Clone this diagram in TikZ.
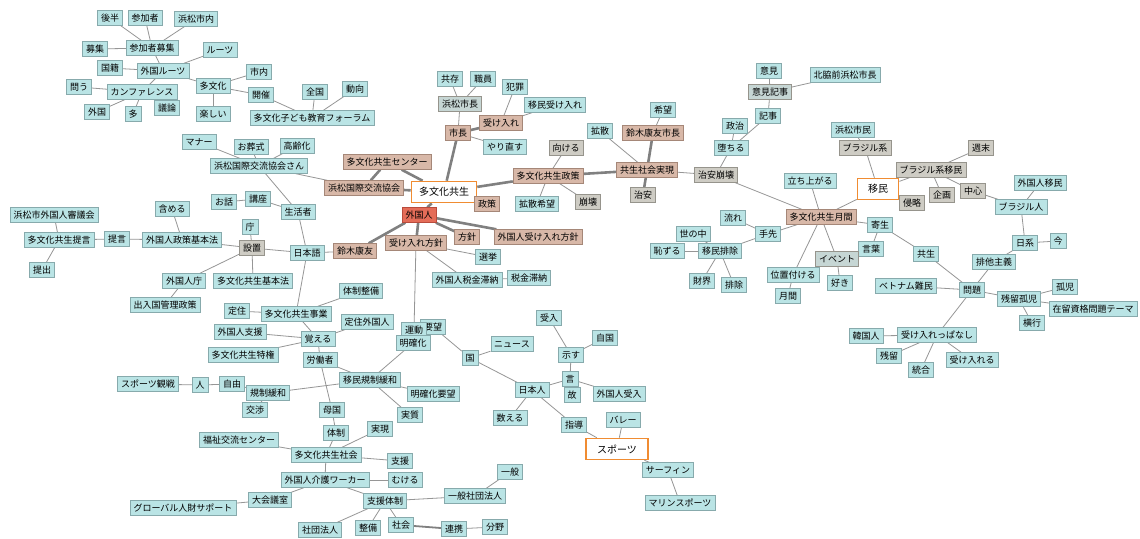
\documentclass[tikz,border=0pt]{standalone}
\usepackage{fontspec}
\newfontfamily\jp{Noto Sans CJK JP}
\usetikzlibrary{backgrounds,shadows}
\definecolor{cy}{RGB}{186,228,229}
\definecolor{cyd}{RGB}{135,170,172}
\definecolor{br}{RGB}{216,184,168}
\definecolor{brd}{RGB}{165,135,120}
\definecolor{gr}{RGB}{206,204,196}
\definecolor{grd}{RGB}{150,148,140}
\definecolor{cg}{RGB}{198,214,212}
\definecolor{rd}{RGB}{228,108,88}
\definecolor{rdd}{RGB}{185,75,60}
\definecolor{org}{RGB}{240,140,50}
\definecolor{ln}{RGB}{150,150,150}
\definecolor{lt}{RGB}{128,128,128}
\begin{document}
\begin{tikzpicture}[x=1pt,y=-1pt,
  nb/.style={font=\jp\fontsize{9}{10}\selectfont, inner xsep=3.5pt, inner ysep=0pt, minimum height=15pt, line width=0.4pt,
    drop shadow={shadow xshift=0.8pt,shadow yshift=-0.8pt,fill=black!40,opacity=0.6}},
  c/.style={nb, fill=cy, draw=cyd},
  b/.style={nb, fill=br, draw=brd},
  g/.style={nb, fill=gr, draw=grd},
  q/.style={nb, fill=cg, draw=grd},
  r/.style={nb, fill=rd, draw=rdd},
  o/.style={font=\jp\fontsize{10}{12}\selectfont, draw=org, line width=1.6pt, fill=white, minimum height=21pt, inner xsep=2pt},
  e/.style={draw=ln, line width=0.8pt},
  t/.style={draw=lt, line width=2.6pt},
  m/.style={draw=lt, line width=1.8pt}]
\useasboundingbox (0,0) rectangle (1140,538);
% nodes
\node[c] (n01) at (110,18) {後半};
\node[c] (n02) at (145,18) {参加者};
\node[c] (n03) at (196,19) {浜松市内};
\node[c] (n04) at (95,49) {募集};
\node[c] (n05) at (152,48) {参加者募集};
\node[c] (n06) at (220,50) {ルーツ};
\node[c] (n07) at (110,68) {国籍};
\node[c] (n08) at (163,71) {外国ルーツ};
\node[c] (n09) at (259,72) {市内};
\node[c] (n10) at (213,86) {多文化};
\node[c] (n11) at (79,87) {問う};
\node[c] (n12) at (142,92) {カンファレンス};
\node[c] (n13) at (261,95) {開催};
\node[c] (n14) at (97,112) {外国};
\node[c] (n15) at (133,114) {多};
\node[c] (n16) at (167,108) {議論};
\node[c] (n17) at (213,114) {楽しい};
\node[c] (n18) at (312,118) {多文化子ども教育フォーラム};
\node[c] (n19) at (315,92) {全国};
\node[c] (n20) at (355,89) {動向};
\node[c] (n21) at (199,142) {マナー};
\node[c] (n22) at (251,147) {お葬式};
\node[c] (n23) at (297,146) {高齢化};
\node[c] (n24) at (259,166) {浜松国際交流協会さん};
\node[c] (n25) at (450,79) {共存};
\node[c] (n26) at (483,79) {職員};
\node[q] (n27) at (460,104) {浜松市長};
\node[c] (n28) at (515,87) {犯罪};
\node[c] (n29) at (555,105) {移民受け入れ};
\node[b] (n30) at (501,123) {受け入れ};
\node[b] (n31) at (458,133) {市長};
\node[c] (n32) at (505,147) {やり直す};
\node[b] (n33) at (387,162) {多文化共生センター};
\node[g] (n34) at (566,148) {向ける};
\node[b] (n35) at (548,176) {多文化共生政策};
\node[c] (n36) at (663,110) {希望};
\node[c] (n37) at (600,131) {拡散};
\node[b] (n38) at (653,133) {鈴木康友市長};
\node[b] (n39) at (647,170) {共生社会実現};
\node[c] (n40) at (769,71) {意見};
\node[q] (n41) at (770,92) {意見記事};
\node[c] (n42) at (845,75) {北脇前浜松市長};
\node[c] (n43) at (768,116) {記事};
\node[c] (n44) at (735,126) {政治};
\node[c] (n45) at (731,148) {堕ちる};
\node[g] (n46) at (716,175) {治安崩壊};
\node[c] (n47) at (853,130) {浜松市民};
\node[g] (n48) at (865,148) {ブラジル系};
\node[c] (n49) at (810,181) {立ち上がる};
\node[g] (n50) at (981,148) {週末};
\node[g] (n51) at (931,170) {ブラジル系移民};
\node[c] (n52) at (1040,183) {外国人移民};
\node[o, minimum width=41pt] (n53) at (878,189) {移民};
\node[g] (n54) at (912,203) {侵略};
\node[g] (n55) at (942,195) {企画};
\node[g] (n56) at (973,191) {中心};
\node[c] (n57) at (1021,207) {ブラジル人};
\node[c] (n58) at (880,225) {寄生};
\node[c] (n59) at (871,249) {言葉};
\node[c] (n60) at (1025,243) {日系};
\node[c] (n61) at (1058,241) {今};
\node[c] (n62) at (926,254) {共生};
\node[c] (n63) at (994,262) {排他主義};
\node[c] (n64) at (906,286) {ベトナム難民};
\node[c] (n65) at (972,290) {問題};
\node[c] (n66) at (1065,287) {孤児};
\node[c] (n67) at (1019,299) {残留孤児};
\node[c] (n68) at (1093,309) {在留資格問題テーマ};
\node[c] (n69) at (1032,323) {横行};
\node[c] (n70) at (866,336) {韓国人};
\node[c] (n71) at (937,335) {受け入れっぱなし};
\node[c] (n72) at (889,356) {残留};
\node[c] (n73) at (972,360) {受け入れる};
\node[c] (n74) at (921,370) {統合};
\node[g] (n75) at (643,195) {治安};
\node[g] (n76) at (588,202) {崩壊};
\node[b] (n77) at (821,217) {多文化共生月間};
\node[c] (n78) at (733,218) {流れ};
\node[c] (n79) at (768,234) {手先};
\node[c] (n80) at (693,234) {世の中};
\node[c] (n81) at (667,251) {恥ずる};
\node[c] (n82) at (720,251) {移民排除};
\node[c] (n83) at (702,281) {財界};
\node[c] (n84) at (734,285) {排除};
\node[c] (n85) at (793,275) {位置付ける};
\node[c] (n86) at (788,296) {月間};
\node[q] (n87) at (837,259) {イベント};
\node[c] (n88) at (840,283) {好き};
\node[c] (n89) at (605,338) {自国};
\node[c] (n90) at (571,355) {示す};
\node[c] (n91) at (54,215) {浜松市外国人審議会};
\node[c] (n92) at (59,240) {多文化共生提言};
\node[c] (n93) at (117,239) {提言};
\node[c] (n94) at (172,209) {含める};
\node[c] (n95) at (182,240) {外国人政策基本法};
\node[c] (n96) at (42,270) {提出};
\node[c] (n97) at (224,202) {お話};
\node[c] (n98) at (258,199) {講座};
\node[c] (n99) at (298,212) {生活者};
\node[c] (n100) at (250,227) {庁};
\node[g] (n101) at (252,248) {設置};
\node[c] (n102) at (307,253) {日本語};
\node[b] (n103) at (355,251) {鈴木康友};
\node[c] (n104) at (184,281) {外国人庁};
\node[c] (n105) at (253,281) {多文化共生基本法};
\node[c] (n106) at (165,305) {出入国管理政策};
\node[c] (n107) at (237,311) {定住};
\node[c] (n108) at (296,314) {多文化共生事業};
\node[c] (n109) at (240,332) {外国人支援};
\node[c] (n110) at (243,355) {多文化共生特権};
\node[c] (n111) at (361,291) {体制整備};
\node[c] (n112) at (367,322) {定住外国人};
\node[c] (n113) at (318,339) {覚える};
\node[c] (n114) at (320,360) {労働者};
\node[b] (n115) at (364,188) {浜松国際交流協会};
\node[o, minimum width=65pt] (n116) at (444,192) {多文化共生};
\node[b] (n117) at (487,204) {政策};
\node[c] (n118) at (537,204) {拡散希望};
\node[r] (n119) at (419,215) {外国人};
\node[b] (n120) at (416,243) {受け入れ方針};
\node[b] (n121) at (467,237) {方針};
\node[b] (n122) at (538,237) {外国人受け入れ方針};
\node[c] (n123) at (488,257) {選挙};
\node[c] (n124) at (467,280) {外国人税金滞納};
\node[c] (n125) at (529,278) {税金滞納};
\node[c] (n126) at (549,318) {受入};
\node[c] (n127) at (433,327) {要望};
\node[c] (n128) at (414,330) {運動};
\node[c] (n129) at (413,343) {明確化};
\node[c] (n130) at (512,344) {ニュース};
\node[c] (n131) at (470,358) {国};
\node[c] (n132) at (370,380) {移民規制緩和};
\node[c] (n133) at (433,394) {明確化要望};
\node[c] (n134) at (332,410) {母国};
\node[c] (n135) at (410,415) {実質};
\node[c] (n136) at (336,433) {体制};
\node[c] (n137) at (380,429) {実現};
\node[c] (n138) at (326,455) {多文化共生社会};
\node[c] (n139) at (400,461) {支援};
\node[c] (n140) at (325,480) {外国人介護ワーカー};
\node[c] (n141) at (405,480) {むける};
\node[c] (n142) at (510,472) {一般};
\node[c] (n143) at (475,496) {一般社団法人};
\node[c] (n144) at (385,501) {支援体制};
\node[c] (n145) at (320,530) {社団法人};
\node[c] (n146) at (368,528) {整備};
\node[c] (n147) at (401,525) {社会};
\node[c] (n148) at (454,529) {連携};
\node[c] (n149) at (495,527) {分野};
\node[c] (n150) at (532,390) {日本人};
\node[c] (n151) at (510,418) {数える};
\node[c] (n152) at (570,379) {言};
\node[c] (n153) at (572,395) {故};
\node[c] (n154) at (574,425) {指導};
\node[c] (n155) at (619,394) {外国人受入};
\node[c] (n156) at (623,420) {バレー};
\node[o, minimum width=62pt] (n157) at (617,449) {スポーツ};
\node[c] (n158) at (668,470) {サーフィン};
\node[c] (n159) at (680,503) {マリンスポーツ};
\node[c] (n160) at (148,384) {スポーツ観戦};
\node[c] (n161) at (200,385) {人};
\node[c] (n162) at (232,384) {自由};
\node[c] (n163) at (268,393) {規制緩和};
\node[c] (n164) at (255,410) {交渉};
\node[c] (n165) at (239,440) {福祉交流センター};
\node[c] (n166) at (270,500) {大会議室};
\node[c] (n167) at (183,508) {グローバル人財サポート};
% edges
\begin{scope}[on background layer]
\fill[white] (0,0) rectangle (1140,538);
\foreach \a/\b in {n01/n05,n02/n05,n03/n05,n04/n05,n05/n08,n06/n08,n07/n08,n08/n12,n08/n10,n11/n12,n14/n12,n15/n12,n16/n12,
  n10/n09,n10/n13,n10/n17,n13/n18,n19/n18,n20/n18,n21/n24,n22/n24,n23/n24,n24/n99,n24/n115,
  n25/n27,n26/n27,n27/n31,n28/n30,n29/n30,n31/n32,n34/n35,n118/n35,n76/n35,n37/n39,n36/n38,
  n39/n46,n45/n46,n44/n45,n43/n45,n41/n43,n40/n41,n42/n41,n46/n77,n49/n77,n53/n77,n47/n48,n48/n53,
  n50/n51,n51/n53,n51/n55,n51/n56,n53/n54,n56/n57,n52/n57,n57/n60,n60/n61,n60/n63,n77/n58,n58/n62,n58/n59,
  n62/n65,n63/n65,n77/n87,n77/n85,n87/n88,n85/n86,n77/n79,n78/n79,n79/n82,n80/n82,n81/n82,n83/n82,n84/n82,
  n64/n65,n65/n67,n66/n67,n68/n67,n69/n67,n65/n71,n70/n71,n72/n71,n74/n71,n73/n71,
  n91/n92,n92/n93,n96/n92,n93/n95,n94/n95,n95/n101,n97/n98,n98/n99,n100/n101,n101/n102,n101/n104,n101/n105,
  n104/n106,n99/n102,n102/n103,n102/n108,n107/n108,n111/n108,n108/n113,n109/n113,n112/n113,n110/n113,n113/n114,
  n114/n132,n114/n134,n163/n132,n132/n129,n132/n133,n132/n135,n160/n161,n161/n162,n162/n163,n163/n164,
  n134/n136,n136/n138,n137/n138,n165/n138,n138/n139,n138/n140,n140/n141,n140/n166,n140/n144,n166/n167,
  n144/n143,n142/n143,n144/n145,n144/n146,n144/n147,n148/n149,n116/n117,n120/n123,n120/n124,n124/n125,
  n120/n128,n127/n131,n131/n130,n131/n150,n126/n90,n90/n89,n90/n152,n152/n150,n152/n155,n152/n153,
  n150/n151,n150/n154,n154/n157,n156/n157,n157/n158,n158/n159}
  \draw[e] (\a) -- (\b);
\foreach \a/\b in {n31/n30,n31/n116,n33/n116,n33/n115,n115/n116,n35/n116,n35/n39,n38/n39,n75/n39,
  n116/n119,n103/n119,n119/n120,n119/n121,n119/n122}
  \draw[t] (\a) -- (\b);
\draw[m] (n147) -- (n148);
\end{scope}
\end{tikzpicture}
\end{document}
